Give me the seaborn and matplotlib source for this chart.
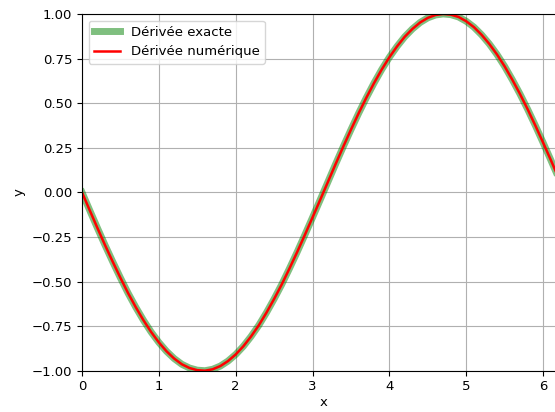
import numpy as np
import pandas as pd
import matplotlib
matplotlib.use("Agg")
import matplotlib.pyplot as plt
import seaborn as sns

# Sample positions along x and the derivative values at those points
x_vals = [0.0, 0.1, 0.2, 0.3, 0.4, 0.5, 0.6, 0.7, 0.8, 0.9,
          1.0, 1.1, 1.2, 1.3, 1.4, 1.5, 1.6, 1.7, 1.8, 1.9,
          2.0, 2.1, 2.2, 2.3, 2.4, 2.5, 2.6, 2.7, 2.8, 2.9,
          3.0, 3.1, 3.2, 3.3, 3.4, 3.5, 3.6, 3.7, 3.8, 3.9,
          4.0, 4.1, 4.2, 4.3, 4.4, 4.5, 4.6, 4.7, 4.8, 4.9,
          5.0, 5.1, 5.2, 5.3, 5.4, 5.5, 5.6, 5.7, 5.8, 5.9,
          6.0, 6.1, 6.2, 6.283]
deriv_exact = [0.0, -0.100, -0.199, -0.296, -0.389, -0.479, -0.565, -0.644, -0.717, -0.783,
               -0.841, -0.891, -0.932, -0.964, -0.985, -0.997, -1.000, -0.992, -0.974, -0.946,
               -0.909, -0.863, -0.808, -0.746, -0.675, -0.598, -0.516, -0.427, -0.335, -0.239,
               -0.141, -0.042, 0.058, 0.158, 0.256, 0.351, 0.443, 0.530, 0.612, 0.688,
               0.757, 0.818, 0.872, 0.916, 0.952, 0.978, 0.994, 1.000, 0.996, 0.983,
               0.959, 0.926, 0.883, 0.832, 0.773, 0.706, 0.631, 0.551, 0.465, 0.374,
               0.279, 0.182, 0.083, 0.0]
deriv_numeric = [0.0, -0.100, -0.199, -0.296, -0.389, -0.479, -0.565, -0.644, -0.717, -0.783,
                 -0.841, -0.891, -0.932, -0.964, -0.985, -0.997, -1.000, -0.992, -0.974, -0.946,
                 -0.909, -0.863, -0.808, -0.746, -0.675, -0.598, -0.516, -0.427, -0.335, -0.239,
                 -0.141, -0.042, 0.058, 0.158, 0.256, 0.351, 0.443, 0.530, 0.612, 0.688,
                 0.757, 0.818, 0.872, 0.916, 0.952, 0.978, 0.994, 1.000, 0.996, 0.983,
                 0.959, 0.926, 0.883, 0.832, 0.773, 0.706, 0.631, 0.551, 0.465, 0.374,
                 0.279, 0.182, 0.083, 0.0]

df = pd.DataFrame({"x": x_vals, "exact": deriv_exact, "numeric": deriv_numeric})

plt.rcParams["font.size"] = 9.5

fig = plt.figure(figsize=(5.55, 4.12), dpi=100)
ax = fig.add_axes([0.1477, 0.1002, 0.870, 0.866])

sns.lineplot(data=df, x="x", y="exact", ax=ax, color="green", alpha=0.5,
             linewidth=5, label="Dérivée exacte", sort=False)
sns.lineplot(data=df, x="x", y="numeric", ax=ax, color="red",
             linewidth=1.8, label="Dérivée numérique", sort=False)

ax.set_xlim(0, 2 * np.pi)
ax.set_ylim(-1, 1)
ax.set_xlabel("x", labelpad=2)
ax.set_ylabel("y")
ax.grid(True)
ax.legend(loc="upper left")

fig.savefig("out.png", dpi=100)
